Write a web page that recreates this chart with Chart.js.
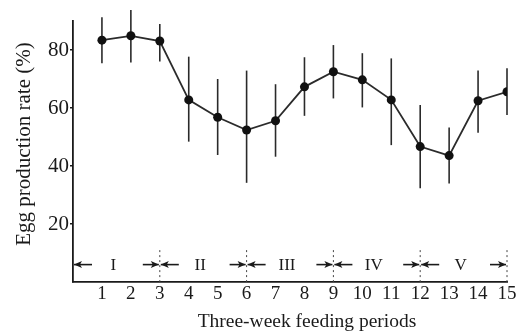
<!DOCTYPE html>
<html><head><meta charset="utf-8">
<script src="https://cdn.jsdelivr.net/npm/chart.js@4/dist/chart.umd.min.js"></script>
<style>html,body{margin:0;padding:0;background:#fff;}#wrap{width:522px;height:334px;}</style>
</head><body><div id="wrap"><canvas id="c" width="522" height="334"></canvas></div>
<script>
// ---- data ----
const periods   = [1, 2, 3, 4, 5, 6, 7, 8, 9, 10, 11, 12, 13, 14, 15];
const eggRate   = [83.4, 84.9, 83.1, 62.8, 56.8, 52.4, 55.6, 67.3, 72.5, 69.7, 62.8, 46.7, 43.6, 62.5, 65.6];
const errUpper  = [91.3, 93.8, 89.0, 77.7, 70.0, 72.9, 68.2, 77.5, 81.7, 78.9, 77.1, 61.0, 53.3, 72.9, 73.7];
const errLower  = [75.4, 75.7, 76.0, 48.4, 43.8, 34.2, 43.2, 57.3, 63.3, 60.2, 47.2, 32.3, 34.0, 51.5, 57.6];
const yTickValues = [20, 40, 60, 80];
const xTickValues = periods;
const phaseLabels = ['I', 'II', 'III', 'IV', 'V'];
const phaseBounds = [0, 3, 6, 9, 12, 15];
const phaseLevel  = 6;
const xTitle = 'Three-week feeding periods';
const yTitle = 'Egg production rate (%)';

const SERIF = '"Liberation Serif", "DejaVu Serif", serif';
const INK = '#1a1a1a';

const errorBars = {
  id: 'errorBars',
  beforeDatasetsDraw(chart) {
    const ctx = chart.ctx, xs = chart.scales.x, ys = chart.scales.y;
    ctx.save();
    ctx.strokeStyle = '#2a2a2a';
    ctx.lineWidth = 1.6;
    periods.forEach((p, i) => {
      const x = xs.getPixelForValue(p);
      ctx.beginPath();
      ctx.moveTo(x, ys.getPixelForValue(errUpper[i]));
      ctx.lineTo(x, ys.getPixelForValue(errLower[i]));
      ctx.stroke();
    });
    ctx.restore();
  }
};

function arrow(ctx, x0, x1, y) {
  const dir = Math.sign(x1 - x0);
  ctx.beginPath();
  ctx.moveTo(x0, y); ctx.lineTo(x1, y);
  ctx.stroke();
  ctx.beginPath();
  ctx.moveTo(x1, y);
  ctx.lineTo(x1 - dir * 8, y - 3.5);
  ctx.lineTo(x1 - dir * 6, y);
  ctx.lineTo(x1 - dir * 8, y + 3.5);
  ctx.closePath();
  ctx.fill();
}

const phases = {
  id: 'phases',
  afterDraw(chart) {
    const ctx = chart.ctx, xs = chart.scales.x, ys = chart.scales.y;
    const y = ys.getPixelForValue(phaseLevel);
    ctx.save();
    ctx.strokeStyle = INK; ctx.fillStyle = INK; ctx.lineWidth = 1.6;
    for (let i = 0; i < phaseLabels.length; i++) {
      const a = xs.getPixelForValue(phaseBounds[i]);
      const b = xs.getPixelForValue(phaseBounds[i + 1]);
      arrow(ctx, a + 19, a + 1, y);
      arrow(ctx, b - 17, b - 1, y);
      ctx.font = '17px ' + SERIF;
      ctx.textAlign = 'center'; ctx.textBaseline = 'middle';
      ctx.fillText(phaseLabels[i], (a + b) / 2 - 3, y + 1);
    }
    // dotted boundary markers
    ctx.setLineDash([2, 3]);
    ctx.lineWidth = 1;
    ctx.strokeStyle = '#444';
    for (let i = 1; i < phaseBounds.length; i++) {
      const x = xs.getPixelForValue(phaseBounds[i]);
      ctx.beginPath();
      ctx.moveTo(x, ys.getPixelForValue(11));
      ctx.lineTo(x, ys.getPixelForValue(0));
      ctx.stroke();
    }
    ctx.setLineDash([]);
    // axis titles
    ctx.fillStyle = INK;
    ctx.textAlign = 'center'; ctx.textBaseline = 'middle';
    ctx.font = '19.5px ' + SERIF;
    ctx.fillText(xTitle, 307, 322);
    ctx.translate(24, 144);
    ctx.rotate(-Math.PI / 2);
    ctx.font = '21px ' + SERIF;
    ctx.fillText(yTitle, 0, 0);
    ctx.restore();
  }
};

new Chart(document.getElementById('c'), {
  type: 'line',
  data: {
    datasets: [{
      data: periods.map((p, i) => ({ x: p, y: eggRate[i] })),
      borderColor: '#2b2b2b',
      borderWidth: 1.8,
      pointRadius: 4.5,
      pointBackgroundColor: '#111',
      pointBorderColor: '#111',
      pointBorderWidth: 0,
      tension: 0,
      fill: false
    }]
  },
  options: {
    responsive: false,
    devicePixelRatio: 1,
    animation: false,
    layout: { padding: { top: 21, right: 15, bottom: 0, left: 0 } },
    plugins: { legend: { display: false }, tooltip: { enabled: false }, title: { display: false } },
    scales: {
      x: {
        type: 'linear', min: 0, max: 15,
        afterBuildTicks: s => { s.ticks = xTickValues.map(v => ({ value: v })); },
        afterFit: s => { s.height = 52; },
        grid: { display: false, drawTicks: false, tickLength: 0 },
        border: { display: true, color: INK, width: 1.8 },
        ticks: { color: INK, font: { family: SERIF, size: 19 }, padding: 1, maxRotation: 0, autoSkip: false }
      },
      y: {
        min: 0, max: 90,
        afterBuildTicks: s => { s.ticks = yTickValues.map(v => ({ value: v })); },
        afterFit: s => { s.width = 73; },
        grid: { drawOnChartArea: false, drawTicks: true, tickLength: 3, color: INK, lineWidth: 1.5 },
        border: { display: true, color: INK, width: 1.8 },
        ticks: { color: INK, font: { family: SERIF, size: 21 }, padding: 1 }
      }
    }
  },
  plugins: [errorBars, phases]
});
</script>
</body></html>
